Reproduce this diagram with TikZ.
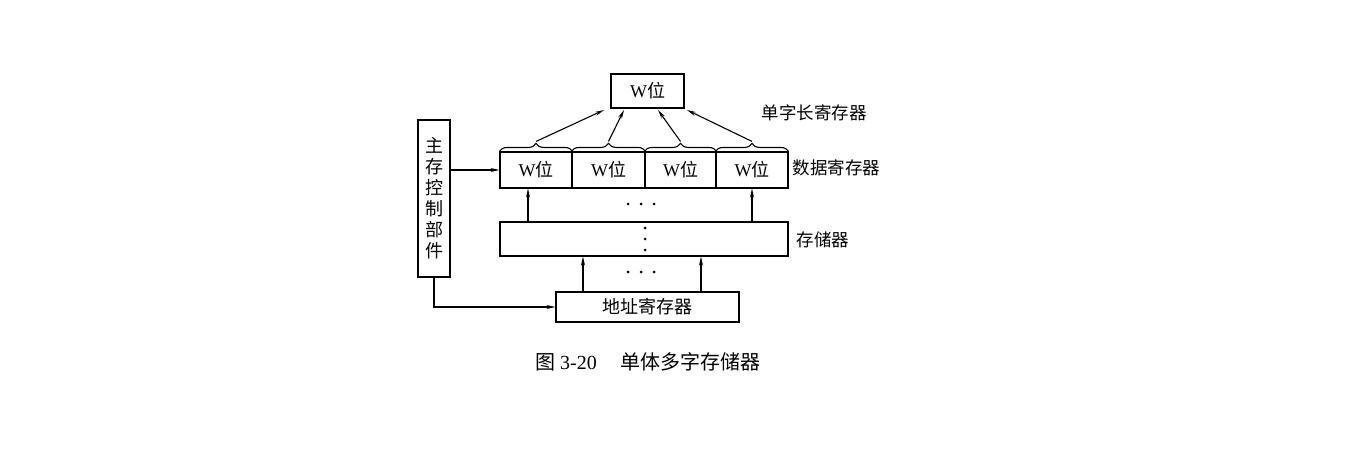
\documentclass[tikz,border=0pt]{standalone}
\usepackage{fontspec}
\setmainfont{Liberation Serif}
\newfontfamily\cjk{Noto Sans CJK SC}
\usetikzlibrary{decorations.pathreplacing,arrows.meta}
\begin{document}
\begin{tikzpicture}[x=1pt,y=-1pt,
  box/.style={draw,line width=1.1pt,minimum height=34pt,inner sep=0pt,font=\fontsize{18}{20}\selectfont},
  lab/.style={font=\cjk\fontsize{17.5}{20}\selectfont,anchor=west},
  arr/.style={-{Stealth[length=9pt,width=4pt]},line width=1.1pt},
  br/.style={decorate,decoration={brace,amplitude=8pt},line width=1.1pt},
  dot/.style={circle,fill,inner sep=0pt,minimum size=3pt}]
\useasboundingbox (0,0) rectangle (1366,458);
\node[box,minimum width=73pt,minimum height=34pt] (top) at (647.5,91) {W{\cjk 位}};
\node[box,minimum width=32pt,minimum height=157pt,align=center,font=\cjk\fontsize{18}{21}\selectfont] (ctl) at (434,198.5) {主\\存\\控\\制\\部\\件};
\node[box,minimum width=72pt,minimum height=36pt] (d1) at (536,170) {W{\cjk 位}};
\node[box,minimum width=73pt,minimum height=36pt] (d2) at (608.5,170) {W{\cjk 位}};
\node[box,minimum width=71pt,minimum height=36pt] (d3) at (680.5,170) {W{\cjk 位}};
\node[box,minimum width=72pt,minimum height=36pt] (d4) at (752,170) {W{\cjk 位}};
\node[box,minimum width=288pt,minimum height=34pt] (mem) at (644,239) {};
\node[box,minimum width=183pt,minimum height=30pt,font=\cjk\fontsize{18}{20}\selectfont] (addr) at (647.5,307) {地址寄存器};
\node[lab] (l1) at (758,113) {单字长寄存器};
\node[lab] (l2) at (789,168) {数据寄存器};
\node[lab] (l3) at (793,240) {存储器};
\node[font=\fontsize{20}{22}\selectfont] (cap) at (648,362) {{\cjk 图} 3-20\hspace{1.2em}{\cjk 单体多字存储器}};
% braces
\foreach \c in {d1,d2,d3,d4}{
  \draw[br] (\c.north west) -- coordinate[yshift=10pt] (\c tip) (\c.north east);
}
\coordinate (t1) at (604,110);
\coordinate (t2) at (624,110);
\coordinate (t3) at (658,110);
\coordinate (t4) at (687,110);
\draw[arr] (d1tip) -- (t1);
\draw[arr] (d2tip) -- (t2);
\draw[arr] (d3tip) -- (t3);
\draw[arr] (d4tip) -- (t4);
% control arrows
\draw[arr] (ctl.east |- d1.west) -- (d1.west);
\draw[arr] (ctl.south) |- (addr.west);
% vertical arrows
\draw[arr] (mem.north -| 528,0) -- (d1.south -| 528,0);
\draw[arr] (mem.north -| 752,0) -- (d4.south);
\draw[arr] (addr.north -| 583,0) -- (mem.south -| 583,0);
\draw[arr] (addr.north -| 701,0) -- (mem.south -| 701,0);
% dots
\foreach \x in {628,641,654}{
  \node[dot] at (\x,204) {};
  \node[dot] at (\x,272) {};
}
\foreach \y in {228,239,250}{
  \node[dot] at (645,\y) {};
}
\end{tikzpicture}
\end{document}
